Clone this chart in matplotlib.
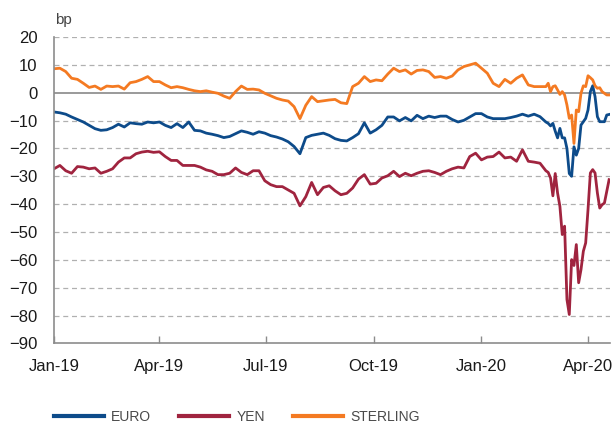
import matplotlib
matplotlib.use('Agg')
import matplotlib.pyplot as plt
import matplotlib.dates as mdates
import pandas as pd

# sampled every 5 days from 1 Jan 2019, then every 2 days from 27 Feb 2020
dates_a = pd.date_range('2019-01-01', periods=85, freq='5D')
dates_b = pd.date_range('2020-02-27', periods=27, freq='2D')
dates = dates_a.append(dates_b)

euro = [-6.9, -7.2, -7.7, -8.7, -9.6, -10.5, -11.7, -12.9, -13.5, -13.3, -12.5, -11.3,
        -12.3, -10.8, -11.1, -11.3, -10.5, -10.8, -10.5, -11.7, -12.5, -11.1, -12.5, -10.5,
        -13.5, -13.7, -14.5, -14.9, -15.4, -16.1, -15.7, -14.7, -13.7, -14.2, -14.9, -14.0,
        -14.5, -15.4, -15.9, -16.6, -17.6, -19.3, -21.9, -16.1, -15.3, -14.9, -14.5,
        -15.3, -16.5, -17.1, -17.3, -16.1, -14.7, -10.8, -14.5, -13.3, -11.7, -8.7, -8.7,
        -10.1, -8.9, -10.1, -8.1, -9.3, -8.4, -8.9, -8.4, -8.4, -9.6, -10.5,
        -9.9, -8.7, -7.5, -7.5, -8.7, -9.3, -9.3, -9.3, -8.9, -8.4, -7.7, -8.4, -7.7, -8.6, -10.5,
        -11.0, -11.9, -11.0, -13.8, -16.2, -12.8, -16.2, -16.2, -20.0, -29.0, -30.0, -19.4,
        -22.4, -20.0, -11.6, -10.4, -9.2, -6.2, 0.4, 2.5, -1.4, -8.6, -10.4, -10.4, -10.4, -8.0, -7.8]

yen = [-27.3, -26.1, -28.0, -28.9, -26.5, -26.7, -27.3, -27.0, -28.9, -28.2, -27.3, -24.9,
       -23.4, -23.4, -21.9, -21.3, -21.0, -21.4, -21.2, -22.9, -24.3, -24.3, -26.1, -26.1,
       -26.1, -26.7, -27.7, -28.2, -29.4, -29.4, -28.9, -27.0, -28.6, -29.4, -28.0, -28.0,
       -31.6, -33.0, -33.7, -33.7, -34.9, -36.1, -40.6, -37.3, -32.2, -36.6, -34.0,
       -33.4, -35.2, -36.6, -36.1, -34.2, -31.0, -29.4, -32.8, -32.5, -30.6, -29.8, -28.2,
       -30.1, -28.9, -29.8, -28.9, -28.2, -28.0, -28.6, -29.4, -28.2, -27.3, -26.7,
       -27.0, -22.9, -21.7, -24.1, -23.1, -22.9, -21.3, -23.4, -23.1, -24.6, -20.5, -24.6,
       -24.9, -25.3, -28.0,
       -28.6, -30.6, -37.0, -29.0, -36.0, -40.8, -50.9, -47.9, -74.2, -79.6, -59.9, -62.0,
       -54.5, -68.2, -63.5, -56.9, -53.9, -41.9, -28.8, -27.6, -28.8, -36.0, -41.4, -40.2,
       -39.6, -35.4, -31.2]

sterling = [8.6, 8.8, 7.6, 5.2, 4.8, 3.4, 1.9, 2.4, 1.2, 2.4, 2.2, 2.4, 1.3, 3.6, 4.0, 4.8,
            5.8, 4.0, 4.0, 2.8, 1.8, 2.2, 1.8, 1.2,
            0.7, 0.4, 0.7, 0.2, -0.2, -1.2, -2.0, 0.4, 2.4, 1.2, 1.3, 1.0, -0.2, -1.1, -2.0,
            -2.6, -3.0, -5.0, -9.3, -4.5, -1.4, -3.2, -2.9,
            -2.6, -2.4, -3.6, -3.9, 2.2, 3.4, 5.8, 4.0, 4.6, 4.3, 6.7, 8.8, 7.6, 8.2, 6.7,
            8.0, 8.2, 7.6, 5.5, 5.8, 5.2, 6.0, 8.2,
            9.4, 10.0, 10.6, 8.8, 7.0, 3.4, 2.2, 4.8, 3.4, 5.2, 6.4, 2.8, 2.2, 2.2, 2.2,
            3.4, 0.4, 2.2, 2.5, 1.0, -0.6, 0.4, -0.8, -4.4, -9.2, -8.0, -18.2, -6.2, -6.8,
            -0.2, 2.5, 2.2, 6.1, 5.4, 4.6, 2.5, 1.6, 1.8, 0.4, -0.2, -0.8, -0.8]

series_names = ['EURO', 'YEN', 'STERLING']
series_colors = ['#0d4b8a', '#a0243f', '#f47a22']
y_ticks = list(range(-90, 21, 10))
x_ticks = ['2019-01-01', '2019-04-01', '2019-07-01', '2019-10-01', '2020-01-01', '2020-04-01']

plt.rcParams['font.family'] = ['Liberation Sans', 'DejaVu Sans']

fig = plt.figure(figsize=(6.16, 4.23), dpi=100)
ax = fig.add_axes([0.0877, 0.188, 0.903, 0.7245])

for vals, name, col in zip([euro, yen, sterling], series_names, series_colors):
    ax.plot(dates, vals, color=col, lw=2.0, label=name, solid_joinstyle='round')

# grid: dashed every 10bp, solid at zero
for v in y_ticks:
    if v == 0:
        ax.axhline(0, color='#9a9a9a', lw=1.4, zorder=0)
    elif v > -90:
        ax.axhline(v, color='#b0b0b0', lw=0.9, ls=(0, (4, 3)), zorder=0)

ax.set_ylim(-90, 20)
ax.set_yticks(y_ticks)
ax.set_xlim(pd.Timestamp('2019-01-01'), pd.Timestamp('2020-04-20'))
ax.set_xticks(pd.to_datetime(x_ticks))
ax.xaxis.set_major_formatter(mdates.DateFormatter('%b-%y'))

for s in ['top', 'right']:
    ax.spines[s].set_visible(False)
for s in ['left', 'bottom']:
    ax.spines[s].set_color('#8c8c8c')
    ax.spines[s].set_linewidth(1.2)

ax.tick_params(axis='y', length=0, pad=12, labelsize=12, labelcolor='#1a1a1a')
ax.tick_params(axis='x', direction='in', length=5, width=1, color='#8c8c8c',
               pad=11, labelsize=12, labelcolor='#1a1a1a')

fig.text(0.089, 0.953, 'bp', fontsize=11, color='#444444', va='center', ha='left')

leg = fig.legend(loc='center left', bbox_to_anchor=(0.087, 0.0142), ncol=3, frameon=False,
                 handlelength=3.6, handletextpad=0.55, columnspacing=2.0,
                 borderpad=0, borderaxespad=0, prop={'size': 10})
for t in leg.get_texts():
    t.set_color('#4a4a4a')
for h in leg.get_lines():
    h.set_linewidth(3)

fig.savefig('out.png', dpi=100)
